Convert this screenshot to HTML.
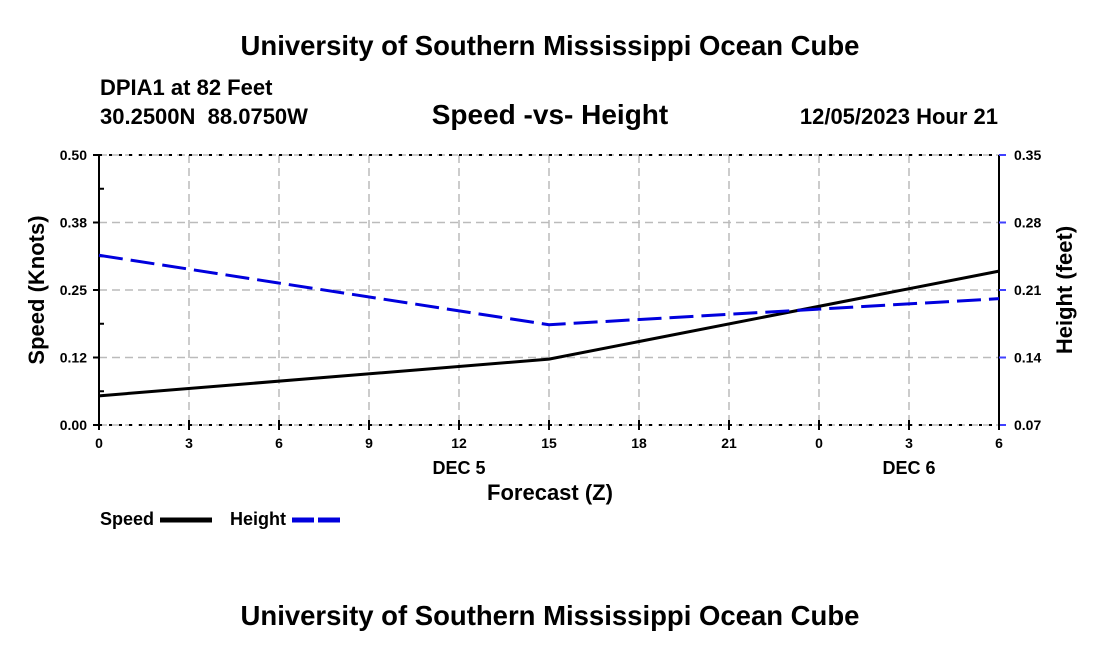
<!DOCTYPE html>
<html><head><meta charset="utf-8"><style>
body{margin:0;background:#fff;}
svg text{font-family:"Liberation Sans",Arial,sans-serif;font-weight:bold;fill:#000;white-space:pre;}
</style></head><body>
<svg id="chart" width="1100" height="650" xmlns="http://www.w3.org/2000/svg">
<text x="550" y="55" font-size="27.5" text-anchor="middle">University of Southern Mississippi Ocean Cube</text>
<text x="100" y="95" font-size="22">DPIA1 at 82 Feet</text>
<text x="100" y="124" font-size="22" xml:space="preserve">30.2500N  88.0750W</text>
<text x="550" y="124" font-size="28" text-anchor="middle">Speed -vs- Height</text>
<text x="998" y="124" font-size="22" text-anchor="end">12/05/2023 Hour 21</text>
<g id="grid"></g>
<g id="axes"></g>
<g id="series"></g>
<text x="550" y="500" font-size="22" text-anchor="middle">Forecast (Z)</text>
<text transform="translate(44,290) rotate(-90)" font-size="22" text-anchor="middle">Speed (Knots)</text>
<text transform="translate(1072,290) rotate(-90)" font-size="22" text-anchor="middle">Height (feet)</text>
<g><text x="100" y="525" font-size="18">Speed</text><line x1="160" y1="520" x2="212" y2="520" stroke="#000" stroke-width="5"/></g>
<g><text x="230" y="525" font-size="18">Height</text><line x1="292" y1="520" x2="344" y2="520" stroke="#0000dd" stroke-width="5" stroke-dasharray="22,4"/></g>
<text x="550" y="625" font-size="27.5" text-anchor="middle">University of Southern Mississippi Ocean Cube</text>
</svg>
<script>
const hours=[0,15,30];
const xTickLabels=["0","3","6","9","12","15","18","21","0","3","6"];
const speedValues=[0.054,0.122,0.285];
const heightValues=[0.246,0.174,0.201];
const leftTicks=["0.00","0.12","0.25","0.38","0.50"];
const rightTicks=["0.07","0.14","0.21","0.28","0.35"];
const dayLabels=[["DEC 5",12],["DEC 6",27]];
const X0=99,X1=999,Y0=425,Y1=155;
const xs=h=>X0+h/30*(X1-X0);
const yl=v=>Y0-v/0.5*(Y0-Y1);
const yr=v=>Y0-(v-0.07)/0.28*(Y0-Y1);
const NS="http://www.w3.org/2000/svg";
function mk(p,t,a){const e=document.createElementNS(NS,t);for(const k in a)e.setAttribute(k,a[k]);p.appendChild(e);return e;}
const grid=document.getElementById('grid'),axes=document.getElementById('axes'),ser=document.getElementById('series');
for(let i=1;i<10;i++){const g=mk(grid,'line',{x1:xs(i*3),x2:xs(i*3),y1:Y1,y2:Y0,stroke:'#bbb','stroke-width':1.5,'stroke-dasharray':'8,5'});

}
for(let i=1;i<4;i++){const y=Y0-i*(Y0-Y1)/4;const g=mk(grid,'line',{x1:X0,x2:X1,y1:y,y2:y,stroke:'#bbb','stroke-width':1.5,'stroke-dasharray':'8,5'});

}
[Y0,Y1].forEach(y=>{mk(axes,'line',{x1:X0,x2:X1,y1:y,y2:y,stroke:'#bbb','stroke-width':1.5,'stroke-dasharray':'8,5'});
mk(axes,'line',{x1:X0,x2:X1,y1:y,y2:y,stroke:'#000','stroke-width':2,'stroke-dasharray':'3,7'});});
mk(axes,'line',{x1:X0,x2:X0,y1:Y1,y2:Y0,stroke:'#000','stroke-width':2});
mk(axes,'line',{x1:X1,x2:X1,y1:Y1,y2:Y0,stroke:'#000','stroke-width':2});
leftTicks.forEach((t,i)=>{const y=Y0-i*(Y0-Y1)/4;
mk(axes,'line',{x1:X0-6,x2:X0,y1:y,y2:y,stroke:'#000','stroke-width':2});
if(i<4)mk(axes,'line',{x1:X0,x2:X0+5,y1:y-(Y0-Y1)/8,y2:y-(Y0-Y1)/8,stroke:'#000','stroke-width':2});
const e=mk(axes,'text',{x:X0-12,y:y+5,'font-size':14,'text-anchor':'end'});e.textContent=t;

});
rightTicks.forEach((t,i)=>{const y=Y0-i*(Y0-Y1)/4;
mk(axes,'line',{x1:X1,x2:X1+7,y1:y,y2:y,stroke:'#4040ff','stroke-width':2});
const e=mk(axes,'text',{x:X1+15,y:y+5,'font-size':14});e.textContent=t;

});
xTickLabels.forEach((t,i)=>{const x=xs(i*3);
mk(axes,'line',{x1:x,x2:x,y1:Y0-5,y2:Y0+5,stroke:'#000','stroke-width':2});
const e=mk(axes,'text',{x:x,y:Y0+23,'font-size':14,'text-anchor':'middle'});e.textContent=t;

});
dayLabels.forEach(d=>{const e=mk(axes,'text',{x:xs(d[1]),y:Y0+49,'font-size':18,'text-anchor':'middle'});e.textContent=d[0];

});
const sp=mk(ser,'polyline',{points:hours.map((h,i)=>xs(h)+','+yl(speedValues[i])).join(' '),fill:'none',stroke:'#000','stroke-width':3});


const hp=mk(ser,'polyline',{points:hours.map((h,i)=>xs(h)+','+yr(heightValues[i])).join(' '),fill:'none',stroke:'#0000dd','stroke-width':3,'stroke-dasharray':'24,8'});


</script>
</body></html>
